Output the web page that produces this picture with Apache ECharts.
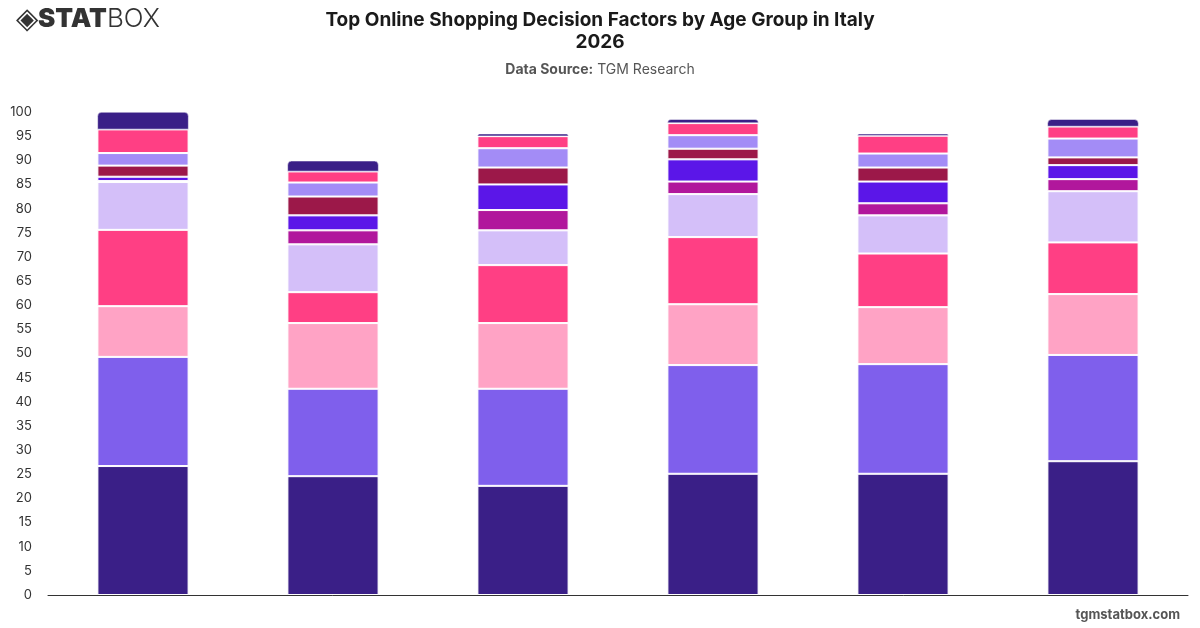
<!DOCTYPE html>
<html>
<head>
<meta charset="utf-8">
<style>
  html, body { margin: 0; padding: 0; background: #fff; }
  #chart { width: 1200px; height: 628px; }
</style>
<script src="https://cdn.jsdelivr.net/npm/echarts@6/dist/echarts.min.js"></script>
</head>
<body>
<div id="chart"></div>
<script>
// age groups (axis labels are not shown in the original)
var ageGroups = ['18-24', '25-34', '35-44', '45-54', '55-64', '65+'];
var yTicks = [0, 100, 5];

// decision factors, bottom of the stack to top
var factorNames = ['Price', 'Delivery Speed', 'Free Shipping', 'Product Reviews', 'Return Policy',
  'Brand Reputation', 'Payment Options', 'Discounts', 'Website Usability', 'Customer Service', 'Other'];
var factorColors = ['#3a1f87', '#7f5fec', '#ffa3c5', '#ff3f84', '#d4bff9',
  '#b1179c', '#5b16e8', '#9c1849', '#a38cf6', '#ff3f84', '#3a1f87'];

var price          = [26.7, 24.6, 22.6, 25.1, 25.1, 27.7];
var deliverySpeed  = [22.6, 18.1, 20.1, 22.5, 22.7, 22.0];
var freeShipping   = [10.5, 13.6, 13.6, 12.6, 11.8, 12.6];
var reviews        = [15.8, 6.4, 12.0, 13.9, 11.1, 10.7];
var returnPolicy   = [9.9, 9.9, 7.2, 8.9, 7.9, 10.6];
var brand          = [0.2, 2.9, 4.2, 2.6, 2.5, 2.5];
var payment        = [0.9, 3.1, 5.3, 4.6, 4.5, 2.9];
var discounts      = [2.3, 3.9, 3.5, 2.2, 2.9, 1.6];
var usability      = [2.6, 2.9, 4.0, 2.8, 2.9, 3.9];
var service        = [4.9, 2.3, 2.5, 2.5, 3.7, 2.5];
var other          = [3.6, 2.2, 0.5, 0.8, 0.4, 1.5];

var factorData = [price, deliverySpeed, freeShipping, reviews, returnPolicy,
  brand, payment, discounts, usability, service, other];

var chart = echarts.init(document.getElementById('chart'));

var series = [];
for (var i = 0; i < factorNames.length; i++) {
  var last = i == factorNames.length - 1;
  series.push({
    name: factorNames[i],
    type: 'bar',
    stack: 'total',
    barWidth: '48%',
    data: factorData[i],
    itemStyle: {
      color: factorColors[i],
      borderColor: '#fff',
      borderWidth: last ? 0.5 : 1,
      borderRadius: last ? [4, 4, 0, 0] : 0
    }
  });
}

option = {
  animation: false,
  textStyle: { fontFamily: 'Inter, Roboto, sans-serif' },
  title: [{
    text: 'Top Online Shopping Decision Factors by Age Group in Italy\n2026',
    left: 'center',
    top: 4,
    textStyle: { fontSize: 19, fontWeight: 'bold', color: '#1a1a1a', lineHeight: 22, fontFamily: 'Inter, sans-serif' }
  }, {
    text: '{b|Data Source:} TGM Research',
    left: 'center',
    top: 58,
    textStyle: {
      fontSize: 14, fontWeight: 'normal', color: '#555', fontFamily: 'Inter, sans-serif',
      rich: { b: { fontSize: 14, fontWeight: 'bold', color: '#555', fontFamily: 'Inter, sans-serif' } }
    }
  }],
  graphic: [{
    type: 'text',
    left: 16,
    top: 5,
    style: {
      text: '◈{s|STAT}{l|BOX}',
      fontSize: 29,
      fill: '#333',
      rich: {
        s: { fontSize: 26, fontWeight: 900, fill: '#333', fontFamily: 'Inter, sans-serif' },
        l: { fontSize: 26, fontWeight: 300, fill: '#333', fontFamily: 'Inter, sans-serif' }
      }
    }
  }, {
    type: 'text',
    right: 20,
    bottom: 6,
    style: { text: 'tgmstatbox.com', fontSize: 13, fontWeight: 'bold', fill: '#555', fontFamily: 'Inter, sans-serif' }
  }],
  tooltip: { trigger: 'axis' },
  grid: { left: 48, right: 12, top: 112, bottom: 33 },
  xAxis: [{
    type: 'category',
    data: ageGroups,
    axisLine: { lineStyle: { color: '#333', width: 1 } },
    axisTick: { show: false },
    axisLabel: { show: false }
  }],
  yAxis: [{
    type: 'value',
    min: yTicks[0],
    max: yTicks[1],
    interval: yTicks[2],
    axisLine: { show: false },
    axisTick: { show: false },
    splitLine: { show: false },
    axisLabel: { color: '#333', fontSize: 13, margin: 16 }
  }],
  series: series
};
chart.setOption(option);
</script>
</body>
</html>
